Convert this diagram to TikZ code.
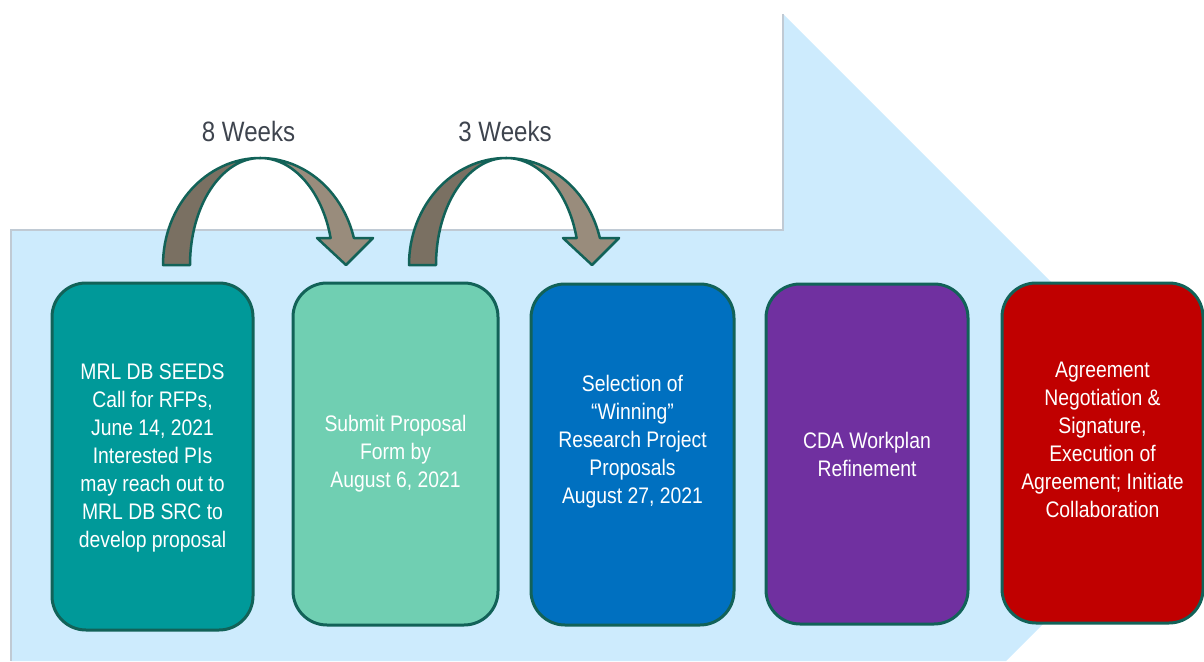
\documentclass[tikz,border=0pt]{standalone}
\usepackage{fontspec}
\setmainfont{Liberation Sans}
\newfontfamily\narrowsans[FakeStretch=0.86]{Liberation Sans}
\definecolor{bgblue}{RGB}{205,235,253}
\definecolor{bgedge}{RGB}{192,202,212}
\definecolor{boxline}{RGB}{18,98,88}
\definecolor{cteal}{RGB}{0,153,153}
\definecolor{cmint}{RGB}{112,207,178}
\definecolor{cblue}{RGB}{0,112,192}
\definecolor{cpurple}{RGB}{112,48,160}
\definecolor{cred}{RGB}{192,0,0}
\definecolor{arrowdark}{RGB}{122,112,98}
\definecolor{arrowlight}{RGB}{153,140,124}
\definecolor{titlegray}{RGB}{62,68,78}
\begin{document}
\begin{tikzpicture}[x=1pt,y=-1pt,
  stagebox/.style={draw=boxline, line width=3pt, rounded corners=34pt, inner sep=0pt},
  lbl/.style={text=white, align=center, inner sep=0pt,
    font=\narrowsans\fontsize{22.5}{28}\selectfont},
  weeks/.style={text=titlegray, anchor=base, inner sep=0pt,
    font=\narrowsans\fontsize{28}{32}\selectfont},
  bandback/.style={fill=arrowdark, draw=boxline, line width=2.5pt, line join=round},
  bandfront/.style={fill=arrowlight, draw=boxline, line width=2.5pt, line join=round}]
\useasboundingbox (0,0) rectangle (1204,661);

% large arrow-shaped backdrop
\begin{scope}
  \clip (0,0) rectangle (1204,661);
  \fill[bgblue] (11,230) -- (783,230) -- (783,14) -- (1218,449) -- (1006,661)
    -- (11,661) -- cycle;
  \draw[bgedge, line width=1.2pt] (11,661) -- (11,230) -- (783,230) -- (783,14);
\end{scope}

% stage boxes
\node[stagebox, fill=cteal,   minimum width=201pt, minimum height=347pt] (b1) at (152.5,456.5) {};
\node[stagebox, fill=cmint,   minimum width=205pt, minimum height=342pt] (b2) at (395.5,454) {};
\node[stagebox, fill=cblue,   minimum width=203pt, minimum height=341pt] (b3) at (632.5,454.5) {};
\node[stagebox, fill=cpurple, minimum width=202pt, minimum height=340pt] (b4) at (867,454) {};
\node[stagebox, fill=cred,    minimum width=201pt, minimum height=340pt] (b5) at (1102.5,453) {};

% box texts
\node[lbl, yshift=-1pt] (l1) at (b1) {MRL DB SEEDS\\Call for RFPs,\\June 14, 2021\\Interested PIs\\may reach out to\\MRL DB SRC to\\develop proposal};
\node[lbl] (l2) at (b2) {Submit Proposal\\Form by\\August 6, 2021};
\node[lbl, yshift=13pt] (l3) at (b3) {Selection of\\“Winning”\\Research Project\\Proposals\\August 27, 2021};
\node[lbl] (l4) at (b4) {CDA Workplan\\Refinement};
\node[lbl, yshift=13.5pt] (l5) at (b5) {Agreement\\Negotiation \&\\Signature,\\Execution of\\Agreement; Initiate\\Collaboration};

% curved "weeks" arrows
\foreach \dx in {0,246} {
  \begin{scope}[xshift=\dx pt]
    \filldraw[bandback] (163,265) arc[start angle=180, end angle=270, x radius=97, y radius=107]
      arc[start angle=270, end angle=180, x radius=70, y radius=107] -- cycle;
    \filldraw[bandfront] (260,158) arc[start angle=270, end angle=345.4, x radius=97, y radius=107]
      -- (373,238) -- (346,265) -- (317,238) -- (330.6,238)
      arc[start angle=345.4, end angle=270, x radius=73, y radius=107] -- cycle;
  \end{scope}
}

% interval labels
\node[weeks] (t1) at (248.5,141.5) {8 Weeks};
\node[weeks] (t2) at (505,141.5) {3 Weeks};
\end{tikzpicture}
\end{document}
